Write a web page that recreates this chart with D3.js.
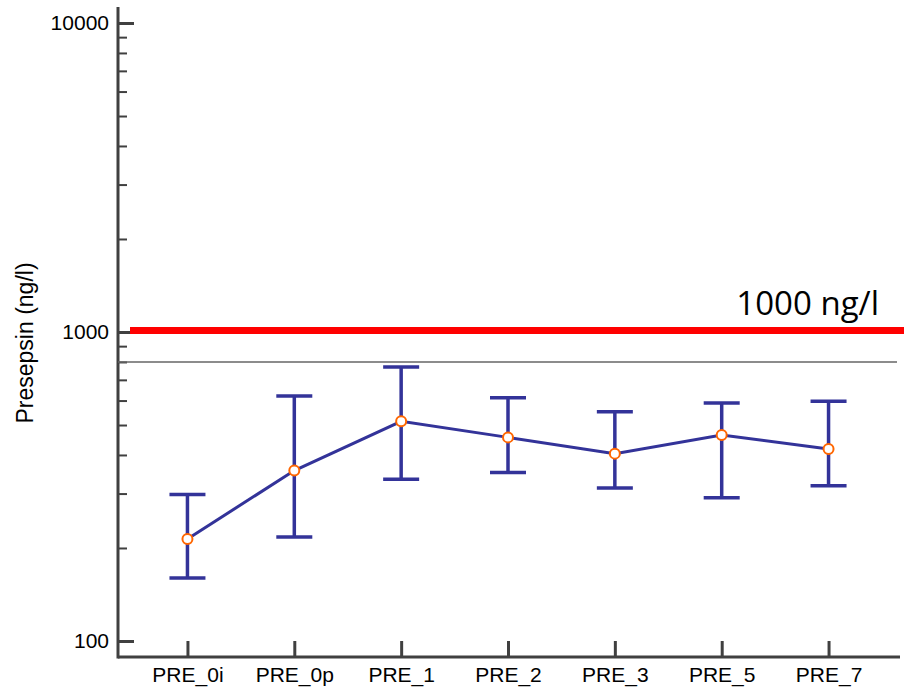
<!DOCTYPE html>
<html>
<head>
<meta charset="utf-8">
<script src="https://d3js.org/d3.v7.min.js"></script>
<style>
  body { margin: 0; background: #fff; }
  text { font-family: "Liberation Sans", Arial, sans-serif; }
</style>
</head>
<body>
<svg width="904" height="689"></svg>
<script>

var categories = ["PRE_0i", "PRE_0p", "PRE_1", "PRE_2", "PRE_3", "PRE_5", "PRE_7"];
var means = [214, 356, 514, 456, 404, 464, 418];
var upper = [298, 621, 770, 613, 552, 589, 597];
var lower = [160, 217, 334, 351, 313, 291, 318];
var majorTicks = [100, 1000, 10000];
var minorTicks = [200, 300, 400, 500, 600, 700, 800, 900, 2000, 3000, 4000, 5000, 6000, 7000, 8000, 9000];
var cutoff = 1000;      // red reference line
var greyLine = 800;     // thin grey reference line

var svg = d3.select("svg"),
    axisX = 118,
    axisY = 657,
    right = 900;

var x = d3.scalePoint()
    .domain(categories)
    .range([axisX, 898])
    .padding(0.65);

var y = d3.scaleLog()
    .domain([100, 10000])
    .range([641, 23]);

var axisColor = "#404040";

// minor ticks
svg.append("g")
    .attr("transform", "translate(" + axisX + ",0)")
    .call(d3.axisLeft(y).tickValues(minorTicks).tickSize(-9).tickFormat(""))
    .call(function(g) { g.select(".domain").remove(); })
    .selectAll("line").attr("stroke", axisColor).attr("stroke-width", 2);

// major ticks + labels
svg.append("g")
    .attr("transform", "translate(" + axisX + ",0)")
    .call(d3.axisLeft(y).tickValues(majorTicks).tickSize(-16).tickPadding(9).tickFormat(d3.format("d")))
    .call(function(g) { g.select(".domain").remove(); })
    .call(function(g) {
      g.selectAll("line").attr("stroke", axisColor).attr("stroke-width", 3);
      g.selectAll("text").attr("fill", "#000").style("font-size", "21px")
        .style("font-family", "'Liberation Sans', Arial, sans-serif");
    });

// x axis
svg.append("g")
    .attr("transform", "translate(0," + axisY + ")")
    .call(d3.axisBottom(x).tickSize(-16).tickPadding(10))
    .call(function(g) { g.select(".domain").remove(); })
    .call(function(g) {
      g.selectAll("line").attr("stroke", axisColor).attr("stroke-width", 3);
      g.selectAll("text").attr("fill", "#000").style("font-size", "21px")
        .style("font-family", "'Liberation Sans', Arial, sans-serif");
    });

// axis lines
svg.append("line")
    .attr("x1", axisX).attr("x2", axisX)
    .attr("y1", 7).attr("y2", axisY + 1.5)
    .attr("stroke", axisColor).attr("stroke-width", 3);
svg.append("line")
    .attr("x1", axisX).attr("x2", right)
    .attr("y1", axisY).attr("y2", axisY)
    .attr("stroke", axisColor).attr("stroke-width", 3);

// y label
svg.append("text")
    .attr("transform", "translate(33,343) rotate(-90)")
    .attr("text-anchor", "middle")
    .style("font-size", "23px")
    .text("Presepsin (ng/l)");

// grey reference line
svg.append("line")
    .attr("x1", axisX).attr("x2", 897)
    .attr("y1", y(greyLine)).attr("y2", y(greyLine))
    .attr("stroke", "#666").attr("stroke-width", 1.5);

// red cutoff line
svg.append("line")
    .attr("x1", 130).attr("x2", 904)
    .attr("y1", y(cutoff) - 1.5).attr("y2", y(cutoff) - 1.5)
    .attr("stroke", "#ff0000").attr("stroke-width", 7);

svg.append("text")
    .attr("x", 879)
    .attr("y", y(cutoff) - 17)
    .attr("text-anchor", "end")
    .style("font-family", "'Open Sans', sans-serif")
    .style("font-size", "33px")
    .text(cutoff + " ng/l");

var blue = "#333399";
var data = categories.map(function(c, i) {
  return { cat: c, mean: means[i], hi: upper[i], lo: lower[i] };
});

// error bars
var bars = svg.append("g").attr("stroke", blue).attr("stroke-width", 3.5);
bars.selectAll(".v").data(data).enter().append("line")
    .attr("x1", function(d) { return x(d.cat); })
    .attr("x2", function(d) { return x(d.cat); })
    .attr("y1", function(d) { return y(d.hi); })
    .attr("y2", function(d) { return y(d.lo); });
bars.selectAll(".hi").data(data).enter().append("line")
    .attr("x1", function(d) { return x(d.cat) - 18; })
    .attr("x2", function(d) { return x(d.cat) + 18; })
    .attr("y1", function(d) { return y(d.hi); })
    .attr("y2", function(d) { return y(d.hi); });
bars.selectAll(".lo").data(data).enter().append("line")
    .attr("x1", function(d) { return x(d.cat) - 18; })
    .attr("x2", function(d) { return x(d.cat) + 18; })
    .attr("y1", function(d) { return y(d.lo); })
    .attr("y2", function(d) { return y(d.lo); });

// mean line
var line = d3.line()
    .x(function(d) { return x(d.cat); })
    .y(function(d) { return y(d.mean); });

svg.append("path")
    .datum(data)
    .attr("fill", "none")
    .attr("stroke", blue)
    .attr("stroke-width", 3)
    .attr("d", line);

svg.selectAll(".pt").data(data).enter().append("circle")
    .attr("cx", function(d) { return x(d.cat); })
    .attr("cy", function(d) { return y(d.mean); })
    .attr("r", 5)
    .attr("fill", "#fff")
    .attr("stroke", "#ff6600")
    .attr("stroke-width", 2);

</script>
</body>
</html>
